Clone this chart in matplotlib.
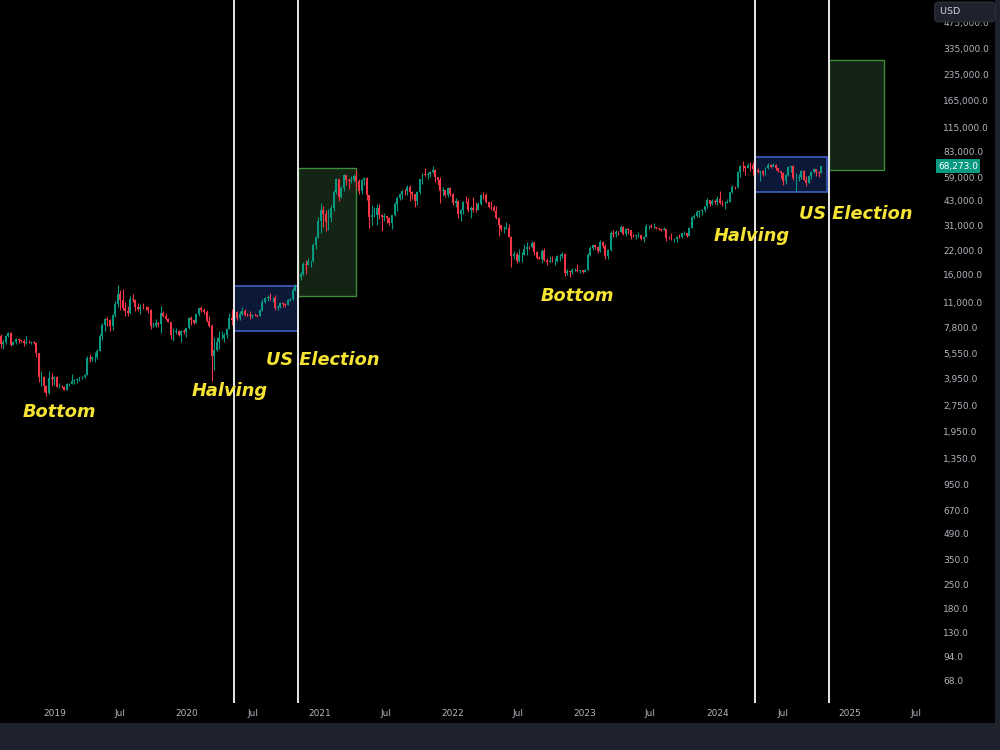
import matplotlib
matplotlib.use('Agg')
import matplotlib.pyplot as plt
import matplotlib.dates as mdates
from matplotlib.patches import Rectangle
import numpy as np
import pandas as pd

# weekly BTC/USD candles, weeks start Monday 2018-07-30 ... 2024-10-14
first_open = 8200
closes = [
    # 2018
    7030, 6300, 6480, 7030, 7270, 6240, 6490, 6700, 6610, 6580, 6400, 6490, 6430, 6460,
    6340, 5570, 4010, 4040, 3590, 3240, 4000, 3920, 4040,
    # 2019
    3540, 3540, 3530, 3410, 3660, 3670, 3850, 3860, 3940, 4030, 4050, 4140, 5180, 5160,
    5290, 5290, 5730, 7000, 8100, 8750, 8740, 8020, 9330, 10820, 12260, 11430, 10240,
    9850, 9530, 11460, 11350, 10360, 10130, 10380, 10310, 10280, 9990, 8050, 8060, 8320,
    8220, 9550, 9200, 8800, 8480, 7050, 7400, 7520, 7100, 7510, 7400, 7760,
    # 2020
    8900, 8640, 8340, 9380, 10170, 9920, 9670, 8530, 8040, 5360, 5810, 6430, 6860, 6860,
    7120, 7690, 8900, 8720, 9730, 8900, 9450, 9750, 9330, 9290, 9140, 9270, 9250, 9160,
    9930, 11080, 11680, 11850, 11640, 11680, 10250, 10320, 10920, 10780, 10670, 11390,
    11490, 13030, 13770, 15480, 16070, 18410, 18200, 19160, 19270, 23850, 26480, 33000,
    # 2021
    38200, 36000, 32300, 34300, 39250, 48600, 57500, 45200, 51000, 61200, 57300, 55800,
    57000, 59800, 56200, 49100, 56600, 58200, 46400, 34700, 35700, 35800, 39100, 35600,
    34700, 35300, 34250, 31800, 35400, 41500, 44500, 47100, 49300, 48900, 51800, 48300,
    47300, 43200, 48200, 57400, 61600, 60900, 61300, 63300, 65500, 59000, 57300, 49400,
    50100, 46700, 50800, 47300,
    # 2022
    41900, 43100, 36300, 37900, 42400, 42200, 38300, 39100, 38000, 37800, 41300, 46800,
    46400, 42200, 39700, 39500, 37700, 34300, 31300, 29400, 29400, 29900, 26600, 20600,
    21000, 19300, 20800, 20800, 22600, 23300, 23200, 24300, 21500, 20000, 19800, 21800,
    19400, 18800, 19300, 19100, 19200, 20600, 20600, 21000, 16300, 16700, 16500, 17100,
    17100, 16800, 16900, 16600,
    # 2023
    17100, 20900, 22700, 23700, 23300, 21800, 24600, 23400, 20500, 22100, 28000, 27500,
    28500, 28300, 30300, 27600, 29300, 28900, 26900, 26700, 27100, 27100, 25900, 26300,
    30500, 30600, 30300, 30300, 29800, 29300, 29000, 29300, 26100, 26000, 25900, 25900,
    26500, 26300, 27900, 27900, 26900, 29900, 34500, 35000, 37100, 37400, 37800, 39900,
    43800, 41400, 43000, 42300,
    # 2024
    43900, 41700, 41600, 42000, 42500, 48300, 52100, 51700, 63100, 68900, 68400, 67200,
    69700, 69400, 65700, 64900, 63100, 63900, 61500, 66900, 69300, 67800, 69600, 66700,
    64300, 62700, 55900, 60800, 68200, 68300, 58200, 58700, 58900, 64200, 57300, 54800,
    60000, 63300, 65600, 63000, 62800, 68273,
]
highs = [
    8270, 7150, 6620, 7110, 7410, 7400, 6570, 6840, 6790, 6680, 6700, 7000, 6600, 6550,
    6560, 6450, 5600, 4400, 4100, 3620, 4380, 4250, 4100,
    4100, 3720, 3650, 3600, 3700, 3700, 4200, 3950, 3980, 4060, 4090, 4190, 5350, 5470,
    5350, 5650, 5850, 7150, 8350, 8950, 9070, 8760, 9380, 11250, 13880, 12940, 13180,
    11080, 10450, 11990, 12320, 11500, 10950, 10800, 10920, 10420, 10350, 10070, 8500, 8790,
    8400, 10540, 9800, 9500, 8930, 8200, 7800, 7750, 7630, 7570, 7700, 7810,
    8980, 9190, 8730, 9570, 10170, 10500, 10210, 9950, 9180, 8180, 6900, 6900, 7460, 7470,
    7290, 7740, 9480, 10070, 9900, 9840, 9740, 10380, 10000, 9580, 9790, 9380, 9480, 9320,
    10050, 11450, 11900, 12090, 12450, 11800, 12090, 10620, 11080, 10990, 10960, 11460,
    11730, 13350, 14090, 15960, 16480, 18810, 19480, 19920, 19420, 24290, 26850, 34780,
    41950, 40100, 37850, 38500, 40950, 49700, 58350, 57500, 52600, 61800, 60600, 58400,
    60200, 61300, 64900, 57500, 58000, 59600, 59500, 46800, 40900, 39500, 41300, 41000,
    36000, 36600, 35100, 34600, 35400, 42600, 46000, 48100, 49800, 50500, 52900, 52900,
    48800, 45000, 49200, 57800, 62900, 67000, 63700, 64300, 69000, 66300, 59400, 59200,
    51900, 50000, 52100, 52000,
    47600, 44450, 43500, 38800, 42700, 45850, 44700, 40000, 45400, 42600, 42300, 46900,
    48200, 47500, 42400, 42900, 40800, 39900, 34700, 31300, 30600, 32200, 31500, 26900,
    21900, 21500, 22500, 21600, 24200, 24600, 23600, 25200, 25000, 22000, 20500, 22400,
    22800, 19900, 20400, 20500, 19900, 20700, 21000, 21500, 21400, 17200, 16800, 17400,
    17400, 18400, 17000, 17000,
    17200, 21300, 23400, 23900, 24200, 23400, 25300, 25200, 24000, 22600, 28600, 28900,
    29200, 28600, 31000, 30500, 30000, 29800, 28900, 27600, 27300, 28400, 27300, 26800,
    31400, 31300, 31400, 31800, 30400, 30000, 29700, 30200, 29600, 26800, 28100, 26100,
    26900, 27500, 28000, 28600, 28000, 30400, 35200, 35900, 38000, 37900, 38400, 40200,
    44700, 43500, 44300, 43700,
    45900, 49000, 43500, 42800, 43900, 48600, 52900, 52800, 64000, 69600, 73800, 68100,
    71800, 72700, 72800, 66900, 67200, 64700, 65500, 67700, 71900, 70600, 71900, 70200,
    66900, 63300, 63800, 61300, 68300, 68500, 70000, 62700, 61800, 65000, 64900, 59800,
    60600, 64100, 66500, 65600, 64500, 68800,
]
lows = [
    6880, 5970, 5880, 6260, 6880, 6110, 6180, 6270, 6390, 6450, 6100, 6330, 6360, 6280,
    6260, 5300, 3790, 3600, 3300, 3120, 3200, 3600, 3650,
    3510, 3500, 3480, 3380, 3380, 3580, 3680, 3680, 3730, 3820, 3950, 3960, 4130, 4950,
    5030, 4960, 5160, 5700, 6630, 7440, 8000, 7450, 7550, 8980, 10280, 9880, 9870,
    9100, 9140, 9350, 11040, 9860, 9750, 9350, 10100, 9950, 9600, 7720, 7850, 7900,
    7880, 7300, 8990, 8700, 8400, 6750, 6530, 7220, 7020, 6450, 7150, 6870,
    7670, 8100, 8250, 8360, 9140, 9640, 9450, 8410, 7880, 3850, 4440, 5700, 5860, 6760,
    6460, 6800, 7660, 8120, 8220, 8630, 8640, 9270, 9220, 9160, 8820, 8930, 9140, 9070,
    9150, 9850, 10960, 11140, 11400, 11130, 9880, 9880, 10200, 10370, 10400, 10570,
    11220, 11410, 12870, 13240, 14850, 15800, 16200, 18100, 17600, 19000, 22400, 26000,
    27800, 30400, 28850, 29240, 32300, 37400, 47000, 43000, 44950, 49300, 53300, 50300,
    54900, 55500, 51200, 47000, 47100, 53000, 43800, 30000, 31200, 34800, 31000, 33500,
    28800, 32700, 32100, 31100, 29300, 35200, 37400, 43800, 43900, 46500, 46500, 42800,
    44000, 39600, 40700, 47100, 54300, 59700, 58000, 59500, 62300, 55600, 53500, 42000,
    45700, 45500, 45500, 45700,
    40500, 39600, 34000, 32900, 36300, 41700, 37000, 34300, 37200, 37200, 38100, 40500,
    44200, 42000, 39200, 38200, 37600, 33700, 26700, 28700, 28000, 29300, 26600, 17600,
    19600, 18700, 19000, 18900, 20800, 20800, 22400, 22700, 20800, 19600, 19600, 18600,
    19300, 18100, 18800, 19000, 18200, 18900, 19300, 20100, 15600, 15900, 15500, 16000,
    16700, 16500, 16400, 16300,
    16500, 17100, 20400, 22300, 22500, 21400, 21500, 22800, 19600, 19600, 21800, 26600,
    26500, 27200, 28200, 27100, 26950, 27700, 25800, 26400, 25900, 26500, 25400, 24800,
    26300, 29600, 29700, 29900, 29500, 28900, 28600, 28900, 25200, 25800, 25400, 24900,
    24900, 26000, 26000, 27200, 26600, 26900, 29800, 33900, 34600, 34800, 35600, 37100,
    39100, 40200, 40600, 41500,
    40700, 41500, 40300, 38500, 41900, 42300, 47700, 50600, 50900, 59000, 64500, 60800,
    66500, 64500, 60700, 59700, 62400, 56500, 60200, 60700, 66300, 66700, 68500, 65000,
    63400, 58400, 53500, 54300, 59700, 63500, 57100, 49100, 56100, 57800, 57200, 52600,
    54600, 57600, 62700, 59800, 58900, 62400,
]

# events (halvings and US elections, snapped to their weekly bar) and the projection boxes
event_dates = ['2020-05-11', '2020-11-02', '2024-04-15', '2024-11-04']
blue_boxes = [('2020-05-11', '2020-11-02', 7500, 13700), ('2024-04-15', '2024-10-30', 48500, 77500)]
green_boxes = [('2020-11-02', '2021-04-12', 12000, 67000), ('2024-11-04', '2025-04-04', 65000, 285000)]

price_ticks = [68, 94, 130, 180, 250, 350, 490, 670, 950, 1350, 1950, 2750, 3950, 5550,
               7800, 11000, 16000, 22000, 31000, 43000, 59000, 83000, 115000, 165000,
               235000, 335000, 475000]
last_price = 68273

dates = pd.date_range('2018-07-30', periods=len(closes), freq='W-MON')
opens = [first_open] + closes[:-1]

up = '#089981'
down = '#f23645'
grey = '#b2b5be'

fig = plt.figure(figsize=(10, 7.5), dpi=100, facecolor='#1e222d')
# black chart pane
fig.patches.append(Rectangle((0, 1 - 723 / 750), 0.995, 723 / 750, transform=fig.transFigure,
                             facecolor='black', edgecolor='none', zorder=-5))
ax = fig.add_axes([0, 1 - 703 / 750, 0.935, 703 / 750])
ax.set_facecolor('black')
ax.set_yscale('log')
ax.set_ylim(50.6, 639000)
ax.set_xlim(pd.Timestamp('2018-08-04'), pd.Timestamp('2025-08-23'))

x = mdates.date2num(dates)
o = np.array(opens, dtype=float)
c = np.array(closes, dtype=float)
h = np.array(highs, dtype=float)
l = np.array(lows, dtype=float)
cols = [up if cc >= oo else down for oo, cc in zip(o, c)]

# boxes under the candles
for d0, d1, lo, hi in blue_boxes:
    x0, x1 = mdates.date2num(pd.Timestamp(d0)), mdates.date2num(pd.Timestamp(d1))
    ax.add_patch(Rectangle((x0, lo), x1 - x0, hi - lo, facecolor='#0b1838',
                           edgecolor='#3f5fc0', linewidth=1.2, zorder=1))
for d0, d1, lo, hi in green_boxes:
    x0, x1 = mdates.date2num(pd.Timestamp(d0)), mdates.date2num(pd.Timestamp(d1))
    ax.add_patch(Rectangle((x0, lo), x1 - x0, hi - lo, facecolor='#132314',
                           edgecolor='#3c8c3c', linewidth=1.0, zorder=1))

ax.vlines(x, l, h, colors=cols, linewidth=0.8, zorder=2)
ax.bar(x, np.abs(c - o), bottom=np.minimum(o, c), width=5.4, color=cols, zorder=3)

for d in event_dates:
    ax.axvline(pd.Timestamp(d), color='#e8e8e8', linewidth=1.4, zorder=4)

# ticks
ax.yaxis.tick_right()
ax.set_yticks(price_ticks)
ax.set_yticklabels([f'{p:,.1f}' for p in price_ticks])
ax.yaxis.set_minor_locator(matplotlib.ticker.NullLocator())
for t in ax.get_yticklabels():
    t.set_horizontalalignment('left')
ax.tick_params(axis='y', length=0, pad=6, labelsize=6.5, labelcolor=grey)

xt, xl = [], []
for yr in range(2019, 2026):
    xt += [pd.Timestamp(f'{yr}-01-01'), pd.Timestamp(f'{yr}-07-01')]
    xl += [str(yr), 'Jul']
ax.set_xticks(xt)
ax.set_xticklabels(xl)
ax.tick_params(axis='x', length=0, pad=4, labelsize=6.5, labelcolor=grey)
for s in ax.spines.values():
    s.set_visible(False)

# annotations
yellow = '#f5e433'
labels = [('Bottom', 59, 412), ('Halving', 230, 391), ('US Election', 323, 360),
          ('Bottom', 577, 296), ('Halving', 752, 236), ('US Election', 856, 214)]
for txt, px, py in labels:
    fig.text(px / 1000, 1 - py / 750, txt, color=yellow, fontsize=12.8, fontweight='bold',
             fontstyle='italic', ha='center', va='center', zorder=10)

# last price tag and currency box
fig.text(0.958, 1 - 166 / 750, f'{last_price:,.1f}', color='white', fontsize=6.5,
         ha='center', va='center', zorder=10,
         bbox=dict(boxstyle='square,pad=0.25', facecolor=up, edgecolor='none'))
fig.text(0.965, 1 - 12 / 750, 'USD          ', color='#d1d4dc', fontsize=6.8,
         ha='center', va='center', zorder=10,
         bbox=dict(boxstyle='round,pad=0.55,rounding_size=0.4', facecolor='#1e222d',
                   edgecolor='#2a2e39'))

fig.savefig('out.png', dpi=100, facecolor=fig.get_facecolor())
